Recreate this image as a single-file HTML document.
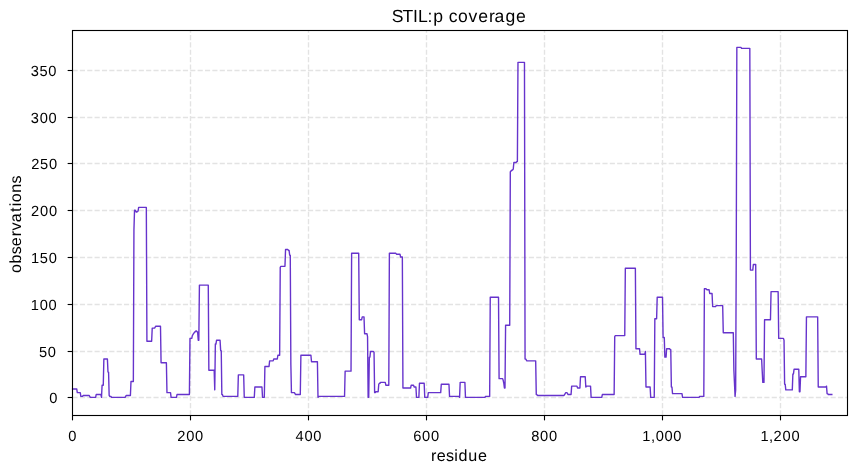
<!DOCTYPE html>
<html><head><meta charset="utf-8"><title>STIL:p coverage</title>
<style>html,body{margin:0;padding:0;background:#fff;}svg{display:block;}text{font-family:"Liberation Sans",sans-serif;}</style>
</head><body><svg width="856" height="474" viewBox="0 0 856 474"><rect width="856" height="474" fill="#fff"/><g stroke="#e3e3e3" stroke-width="1.39" stroke-dasharray="5.14 2.22" fill="none"><path d="M190.50 415.5 V30.5"/><path d="M308.50 415.5 V30.5"/><path d="M426.50 415.5 V30.5"/><path d="M544.50 415.5 V30.5"/><path d="M662.50 415.5 V30.5"/><path d="M780.50 415.5 V30.5"/><path d="M72.5 397.50 H847.5"/><path d="M72.5 351.50 H847.5"/><path d="M72.5 304.50 H847.5"/><path d="M72.5 257.50 H847.5"/><path d="M72.5 210.50 H847.5"/><path d="M72.5 163.50 H847.5"/><path d="M72.5 117.50 H847.5"/><path d="M72.5 70.50 H847.5"/></g><path d="M72.59 388.93 L76.72 388.93 L77.31 392.67 L80.26 392.67 L80.85 396.41 L82.62 396.41 L83.21 395.48 L89.11 395.48 L89.70 396.41 L90.29 397.35 L95.60 397.35 L96.19 394.54 L100.91 394.54 L101.50 397.35 L102.09 385.19 L103.27 385.19 L103.86 358.99 L107.40 358.99 L107.99 372.09 L108.57 372.09 L109.16 395.48 L109.75 396.41 L110.93 396.41 L111.52 397.35 L125.09 397.35 L125.68 396.41 L126.27 395.48 L130.40 395.48 L130.99 381.44 L133.35 381.44 L133.94 229.86 L134.53 210.21 L135.12 210.21 L135.71 211.15 L136.30 212.08 L136.89 212.08 L137.48 211.15 L138.07 211.15 L138.66 207.40 L146.33 207.40 L146.92 341.21 L151.64 341.21 L152.23 328.11 L154.59 328.11 L155.18 327.17 L155.77 326.24 L160.49 326.24 L161.08 362.73 L166.39 362.73 L166.98 392.67 L170.52 392.67 L171.11 397.35 L176.42 397.35 L177.01 394.54 L189.39 394.54 L189.98 338.40 L191.75 338.40 L192.34 335.59 L192.93 334.66 L193.52 333.72 L194.11 332.79 L194.70 331.85 L195.29 331.85 L195.88 330.92 L196.47 330.92 L197.06 331.85 L197.65 331.85 L198.24 340.27 L198.83 340.27 L199.42 285.07 L208.27 285.07 L208.86 370.21 L214.17 370.21 L214.76 389.86 L215.35 344.02 L215.94 344.02 L216.53 340.27 L220.07 340.27 L220.66 350.57 L221.25 350.57 L221.84 394.54 L222.43 394.54 L223.02 396.41 L237.77 396.41 L238.36 374.89 L243.67 374.89 L244.26 397.35 L254.28 397.35 L254.87 387.06 L261.95 387.06 L262.54 397.35 L264.31 397.35 L264.90 366.47 L269.03 366.47 L269.62 360.86 L273.16 360.86 L273.75 358.99 L277.29 358.99 L277.88 355.24 L279.65 355.24 L280.24 267.29 L280.83 266.35 L284.96 266.35 L285.55 249.51 L287.91 249.51 L288.50 250.45 L289.09 250.45 L289.68 255.12 L290.27 255.12 L290.86 364.60 L291.45 392.67 L294.40 392.67 L294.99 393.61 L295.58 394.54 L300.30 394.54 L300.89 355.24 L310.92 355.24 L311.51 361.79 L317.41 361.79 L318.00 397.35 L318.59 396.41 L344.54 396.41 L345.13 371.15 L351.03 371.15 L351.62 253.25 L358.70 253.25 L359.29 319.69 L361.65 319.69 L362.24 316.88 L364.01 316.88 L364.60 333.72 L366.96 333.72 L367.55 336.53 L368.14 397.35 L368.73 397.35 L369.32 357.11 L369.91 357.11 L370.50 351.50 L373.45 351.50 L374.04 352.44 L374.63 392.67 L375.22 392.67 L375.81 391.74 L378.17 391.74 L378.76 384.25 L379.35 383.31 L379.94 383.31 L380.53 382.38 L385.25 382.38 L385.84 385.19 L388.79 385.19 L389.38 253.25 L395.87 253.25 L396.46 254.19 L399.99 254.19 L400.58 257.00 L402.35 257.00 L402.94 387.99 L410.61 387.99 L411.20 385.19 L413.56 385.19 L414.15 387.06 L415.92 387.06 L416.51 397.35 L418.87 397.35 L419.46 383.31 L424.18 383.31 L424.77 397.35 L427.72 397.35 L428.31 392.67 L440.70 392.67 L441.29 384.25 L448.96 384.25 L449.55 396.41 L458.99 396.41 L459.58 397.35 L460.17 382.38 L464.89 382.38 L465.48 397.35 L484.94 397.35 L485.53 396.41 L489.66 396.41 L490.25 297.23 L498.51 297.23 L499.10 378.64 L502.64 378.64 L503.23 380.51 L503.82 383.31 L504.41 387.99 L505.00 387.99 L505.59 325.30 L509.72 325.30 L510.31 171.85 L510.90 170.91 L511.49 170.91 L512.08 169.97 L512.67 169.97 L513.26 169.04 L513.85 162.49 L516.21 162.49 L516.80 161.55 L517.39 161.55 L517.98 62.37 L524.47 62.37 L525.06 358.99 L525.65 358.99 L526.24 359.92 L526.83 360.86 L535.68 360.86 L536.27 394.54 L536.86 394.54 L537.45 395.48 L563.99 395.48 L564.58 394.54 L565.17 393.61 L565.76 392.67 L566.94 392.67 L567.53 393.61 L568.12 394.54 L571.07 394.54 L571.66 386.12 L576.97 386.12 L577.56 387.99 L579.92 387.99 L580.51 376.76 L585.23 376.76 L585.82 387.06 L586.41 386.12 L590.54 386.12 L591.13 397.35 L601.75 397.35 L602.34 394.54 L614.14 394.54 L614.73 336.53 L615.32 335.59 L624.75 335.59 L625.34 268.22 L635.37 268.22 L635.96 348.69 L639.50 348.69 L640.09 354.31 L644.81 354.31 L645.40 351.50 L645.99 387.06 L650.12 387.06 L650.71 397.35 L654.25 397.35 L654.84 318.75 L656.61 318.75 L657.20 297.23 L662.51 297.23 L663.10 337.47 L664.28 337.47 L664.87 357.11 L666.05 357.11 L666.64 348.69 L669.59 348.69 L670.18 349.63 L670.77 349.63 L671.36 387.06 L671.95 387.06 L672.54 393.61 L681.98 393.61 L682.57 397.35 L699.08 397.35 L699.67 396.41 L703.80 396.41 L704.39 288.81 L706.16 288.81 L706.75 289.74 L709.11 289.74 L709.70 293.49 L712.06 293.49 L712.65 306.59 L715.60 306.59 L716.19 305.65 L722.68 305.65 L723.27 332.79 L733.30 332.79 L733.89 370.21 L734.48 383.31 L735.07 396.41 L735.66 389.86 L736.25 254.19 L736.84 47.40 L740.97 47.40 L741.56 48.33 L749.82 48.33 L750.41 270.09 L752.77 270.09 L753.36 264.48 L755.72 264.48 L756.31 358.99 L761.62 358.99 L762.21 371.15 L762.79 382.38 L763.97 382.38 L764.56 319.69 L770.46 319.69 L771.05 291.62 L778.13 291.62 L778.72 338.40 L783.44 338.40 L784.03 340.27 L784.62 384.25 L785.21 384.25 L785.80 389.86 L792.29 389.86 L792.88 373.96 L793.47 373.96 L794.06 369.28 L798.78 369.28 L799.37 391.74 L799.96 391.74 L800.55 376.76 L805.86 376.76 L806.45 316.88 L817.66 316.88 L818.25 387.06 L825.92 387.06 L826.51 386.12 L827.10 393.61 L827.69 393.61 L828.28 394.54 L831.82 394.54" fill="none" stroke="#6633cc" stroke-width="1.39" stroke-linejoin="round" stroke-linecap="square"/><rect x="72.5" y="30.5" width="775.0" height="385.0" fill="none" stroke="#000" stroke-width="1.11" stroke-linejoin="miter"/><g stroke="#000" stroke-width="1.11"><path d="M72.50 415.5 V420.36"/><path d="M190.50 415.5 V420.36"/><path d="M308.50 415.5 V420.36"/><path d="M426.50 415.5 V420.36"/><path d="M544.50 415.5 V420.36"/><path d="M662.50 415.5 V420.36"/><path d="M780.50 415.5 V420.36"/><path d="M72.5 397.50 H67.64"/><path d="M72.5 351.50 H67.64"/><path d="M72.5 304.50 H67.64"/><path d="M72.5 257.50 H67.64"/><path d="M72.5 210.50 H67.64"/><path d="M72.5 163.50 H67.64"/><path d="M72.5 117.50 H67.64"/><path d="M72.5 70.50 H67.64"/></g><g font-family="Liberation Sans, sans-serif" fill="#000" style="opacity:0.999;text-rendering:geometricPrecision"><text transform="translate(57.74 403.37)" x="-8.50" y="0" font-size="14.65">0</text><text transform="translate(56.29 357.06)" x="-17.39 -8.50" y="0" font-size="14.65">50</text><text transform="translate(57.01 309.71)" x="-26.24 -17.33 -8.50" y="0" font-size="14.65">100</text><text transform="translate(57.23 262.90)" x="-26.24 -17.39 -8.50" y="0" font-size="14.65">150</text><text transform="translate(57.39 216.00)" x="-26.35 -17.33 -8.50" y="0" font-size="14.65">200</text><text transform="translate(57.48 168.64)" x="-26.35 -17.39 -8.50" y="0" font-size="14.65">250</text><text transform="translate(56.96 123.04)" x="-26.15 -17.33 -8.50" y="0" font-size="14.65">300</text><text transform="translate(56.82 76.19)" x="-26.15 -17.39 -8.50" y="0" font-size="14.65">350</text><text transform="translate(72.39 441.13)" x="-4.08" y="0" font-size="14.65">0</text><text transform="translate(190.30 441.13)" x="-13.10 -4.08 4.76" y="0" font-size="14.65">200</text><text transform="translate(308.53 441.03)" x="-12.92 -4.08 4.76" y="0" font-size="14.65">400</text><text transform="translate(426.16 441.13)" x="-12.91 -4.08 4.76" y="0" font-size="14.65">600</text><text transform="translate(544.18 441.10)" x="-12.91 -4.08 4.76" y="0" font-size="14.65">800</text><text transform="translate(661.95 441.09)" x="-19.62 -11.01 -6.29 2.55 11.38" y="0" font-size="14.65">1,000</text><text transform="translate(780.04 441.10)" x="-19.62 -11.01 -6.47 2.55 11.38" y="0" font-size="14.65">1,200</text><text transform="translate(458.77 461.01)" x="-27.66 -22.15 -12.85 -4.55 -0.30 9.55 19.25" y="0" font-size="16.12">residue</text><text transform="translate(21.28 224.43) rotate(-90)" x="-48.65 -39.11 -29.87 -21.78 -11.94 -5.97 2.14 12.54 18.12 22.17 31.65 40.94" y="0" font-size="16.12">observations</text><text transform="translate(459.14 21.93)" x="-67.40 -56.61 -46.14 -41.14 -31.59 -25.84 -15.55 -10.47 -1.09 9.43 19.03 29.83 35.46 46.38 56.93" y="0" font-size="17.58">STIL:p coverage</text></g></svg></body></html>
